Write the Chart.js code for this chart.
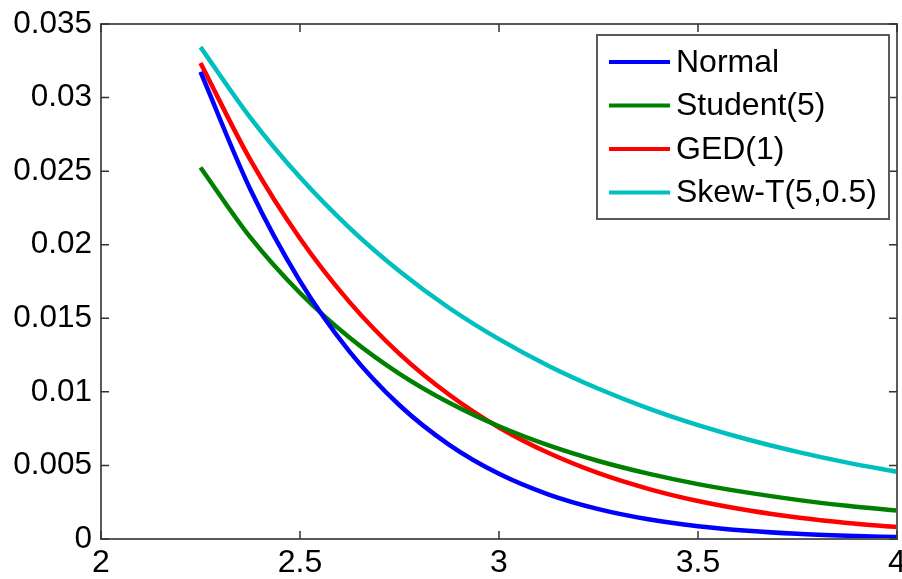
<!DOCTYPE html>
<html>
<head>
<meta charset="utf-8">
<script src="https://cdn.jsdelivr.net/npm/chart.js@4.4.1/dist/chart.umd.min.js"></script>
<style>
  html, body { margin: 0; padding: 0; background: #fff; }
  canvas { display: block; }
</style>
</head>
<body>
<canvas id="densityChart" width="902" height="579"></canvas>
<script>
// Values
const xValues = [2.25, 2.375, 2.5, 2.625, 2.75, 2.875, 3, 3.125, 3.25, 3.375, 3.5, 3.625, 3.75, 3.875, 4];
const normalValues = [0.03174, 0.02377, 0.01753, 0.01272, 0.00909, 0.00640, 0.00443, 0.00302, 0.00203, 0.00134, 0.00087, 0.00056, 0.00035, 0.00022, 0.00013];
const studentValues = [0.02525, 0.02051, 0.01672, 0.01368, 0.01123, 0.00926, 0.00766, 0.00636, 0.00530, 0.00444, 0.00373, 0.00315, 0.00266, 0.00226, 0.00193];
const gedValues = [0.03235, 0.02578, 0.02042, 0.01608, 0.01258, 0.00980, 0.00758, 0.00584, 0.00447, 0.00341, 0.00258, 0.00195, 0.00146, 0.00109, 0.00081];
const skewTValues = [0.03343, 0.02864, 0.02458, 0.02113, 0.01820, 0.01570, 0.01358, 0.01176, 0.01021, 0.00888, 0.00774, 0.00676, 0.00592, 0.00519, 0.00457];
const seriesNames = ["Normal", "Student(5)", "GED(1)", "Skew-T(5,0.5)"];
const seriesColors = ["#0000ff", "#008000", "#ff0000", "#00bfbf"];
const xTickLabels = ["2", "2.5", "3", "3.5", "4"];
const yTickLabels = ["0", "0.005", "0.01", "0.015", "0.02", "0.025", "0.03", "0.035"];

const FONT = "'Liberation Sans', Arial, sans-serif";

function toPoints(values) {
    return values.map((v, i) => ({ x: xValues[i], y: v }));
}

const allSeries = [normalValues, studentValues, gedValues, skewTValues];
const datasets = allSeries.map((values, i) => ({
    label: seriesNames[i],
    data: toPoints(values),
    borderColor: seriesColors[i],
    backgroundColor: seriesColors[i],
    borderWidth: 4.5,
    pointRadius: 0,
    fill: false,
    cubicInterpolationMode: 'monotone',
    clip: 0
}));

// Box frame, inward ticks and the legend inside the plot
const framePlugin = {
    id: 'framePlugin',
    afterDraw(chart) {
        const ctx = chart.ctx;
        const a = chart.chartArea;
        const xs = chart.scales.x;
        const ys = chart.scales.y;
        ctx.save();
        ctx.strokeStyle = '#5a5a5a';
        ctx.lineWidth = 2;
        ctx.strokeRect(a.left, a.top, a.right - a.left, a.bottom - a.top);

        ctx.strokeStyle = '#333';
        ctx.lineWidth = 1.5;
        const len = 8;
        ctx.beginPath();
        xs.ticks.forEach((t) => {
            const px = xs.getPixelForValue(t.value);
            ctx.moveTo(px, a.bottom); ctx.lineTo(px, a.bottom - len);
            ctx.moveTo(px, a.top); ctx.lineTo(px, a.top + len);
        });
        ys.ticks.forEach((t) => {
            const py = ys.getPixelForValue(t.value);
            ctx.moveTo(a.left, py); ctx.lineTo(a.left + len, py);
            ctx.moveTo(a.right, py); ctx.lineTo(a.right - len, py);
        });
        ctx.stroke();

        // legend
        const boxRight = a.right - 8;
        const boxTop = a.top + 11;
        const boxW = 292;
        const boxH = 184;
        const boxLeft = boxRight - boxW;
        ctx.fillStyle = '#fff';
        ctx.fillRect(boxLeft, boxTop, boxW, boxH);
        ctx.strokeStyle = '#5a5a5a';
        ctx.lineWidth = 2;
        ctx.strokeRect(boxLeft, boxTop, boxW, boxH);
        ctx.font = '32px ' + FONT;
        ctx.textBaseline = 'middle';
        ctx.textAlign = 'left';
        chart.data.datasets.forEach((ds, i) => {
            const rowY = boxTop + 27 + i * 43.5;
            ctx.strokeStyle = ds.borderColor;
            ctx.lineWidth = 4;
            ctx.beginPath();
            ctx.moveTo(boxLeft + 12, rowY);
            ctx.lineTo(boxLeft + 73, rowY);
            ctx.stroke();
            ctx.fillStyle = '#000';
            ctx.fillText(ds.label, boxLeft + 79, rowY + 1);
        });
        ctx.restore();
    }
};

function tickText(value) {
    return String(+value.toFixed(3));
}

new Chart(document.getElementById('densityChart'), {
    type: 'line',
    data: { datasets: datasets },
    plugins: [framePlugin],
    options: {
        responsive: false,
        animation: false,
        layout: { padding: { left: 0, top: 24, right: 5, bottom: 0 } },
        plugins: {
            legend: { display: false },
            tooltip: { enabled: false }
        },
        scales: {
            x: {
                type: 'linear',
                min: 2,
                max: 4,
                grid: { display: false, drawTicks: false, tickLength: 0 },
                border: { display: false },
                afterBuildTicks: (scale) => {
                    scale.ticks = xTickLabels.map((s) => ({ value: parseFloat(s) }));
                },
                ticks: {
                    padding: 5,
                    color: '#000',
                    maxRotation: 0,
                    autoSkip: false,
                    font: { family: FONT, size: 32 },
                    callback: tickText
                },
                afterFit: (scale) => {
                    scale.height = 40;
                    scale.paddingLeft = 0;
                    scale.paddingRight = 0;
                }
            },
            y: {
                type: 'linear',
                min: 0,
                max: 0.035,
                grid: { display: false, drawTicks: false, tickLength: 0 },
                border: { display: false },
                afterBuildTicks: (scale) => {
                    scale.ticks = yTickLabels.map((s) => ({ value: parseFloat(s) }));
                },
                ticks: {
                    padding: 9,
                    color: '#000',
                    autoSkip: false,
                    font: { family: FONT, size: 31.5 },
                    callback: tickText
                },
                afterFit: (scale) => {
                    scale.width = 101;
                    scale.paddingTop = 0;
                    scale.paddingBottom = 0;
                }
            }
        }
    }
});
</script>
</body>
</html>
